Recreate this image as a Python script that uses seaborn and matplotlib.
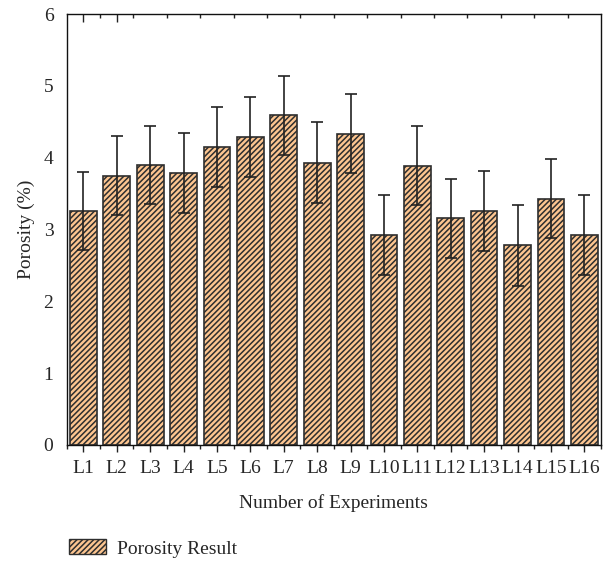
import numpy as np
import pandas as pd
import matplotlib
matplotlib.use("Agg")
import matplotlib.pyplot as plt
import matplotlib.patches as mpatches
from matplotlib.ticker import FixedLocator
import seaborn as sns

sns.set_style("white")
plt.rcParams["font.family"] = ["Liberation Serif", "DejaVu Serif"]
plt.rcParams["hatch.linewidth"] = 1.1

# data
experiments = ["L1", "L2", "L3", "L4", "L5", "L6", "L7", "L8",
               "L9", "L10", "L11", "L12", "L13", "L14", "L15", "L16"]
porosity = [3.26, 3.75, 3.90, 3.79, 4.15, 4.29, 4.59, 3.93,
            4.33, 2.92, 3.89, 3.16, 3.26, 2.78, 3.43, 2.92]
error = [0.54, 0.55, 0.54, 0.56, 0.56, 0.56, 0.55, 0.56,
         0.55, 0.56, 0.55, 0.55, 0.56, 0.56, 0.55, 0.56]

df = pd.DataFrame({"Experiment": experiments, "Porosity": porosity, "Error": error})

fill = "#fcc590"
edge = "#2e2e2e"

fig = plt.figure(figsize=(6.03, 5.61), dpi=100)
ax = fig.add_axes([0.1106, 0.2068, 0.8861, 0.7682])

sns.barplot(data=df, x="Experiment", y="Porosity", color=fill, width=0.8,
            edgecolor=edge, linewidth=1.2, errorbar=None, saturation=1, ax=ax)
for p in ax.patches:
    p.set_hatch("//////")
    p.set_facecolor(fill)

ax.errorbar(np.arange(len(experiments)), df["Porosity"], yerr=df["Error"],
            fmt="none", ecolor="#222222", elinewidth=1.2, capsize=4, capthick=1.2)

ax.set_xlim(-0.5, len(experiments) - 0.5)
ax.set_ylim(0, 6)
ax.set_yticks(range(0, 7))
ax.set_xlabel("Number of Experiments", fontsize=14, labelpad=12)
ax.set_ylabel("Porosity (%)", fontsize=14, labelpad=6)

for s in ax.spines.values():
    s.set_visible(True)
    s.set_color("#111111")
    s.set_linewidth(1.0)

ax.tick_params(axis="y", left=False, labelsize=14, pad=6)
ax.tick_params(axis="x", which="major", bottom=True, direction="out",
               length=5, width=1, labelsize=14, pad=6, color="#222222")
ax.xaxis.set_minor_locator(FixedLocator(np.arange(-0.5, len(experiments), 1.0)))
ax.tick_params(axis="x", which="minor", bottom=True, direction="out",
               length=3, width=1, color="#222222")

# top ticks drawn inward
top = ax.secondary_xaxis("top")
top.set_xticks([0, 1])
top.set_xticklabels([])
top.xaxis.set_minor_locator(FixedLocator(np.arange(0.5, len(experiments) - 1, 1.0)))
top.tick_params(which="major", direction="in", length=6, width=1, color="#222222")
top.tick_params(which="minor", direction="in", length=3, width=1, color="#222222")
top.spines["top"].set_visible(False)

handle = mpatches.Patch(facecolor=fill, edgecolor=edge, hatch="//////",
                        linewidth=1.0, label="Porosity Result")
fig.legend(handles=[handle], loc="lower left", bbox_to_anchor=(0.085, -0.025),
           frameon=False, fontsize=14, handlelength=1.9, handleheight=0.8,
           handletextpad=0.6)

fig.savefig("out.png", dpi=100)
